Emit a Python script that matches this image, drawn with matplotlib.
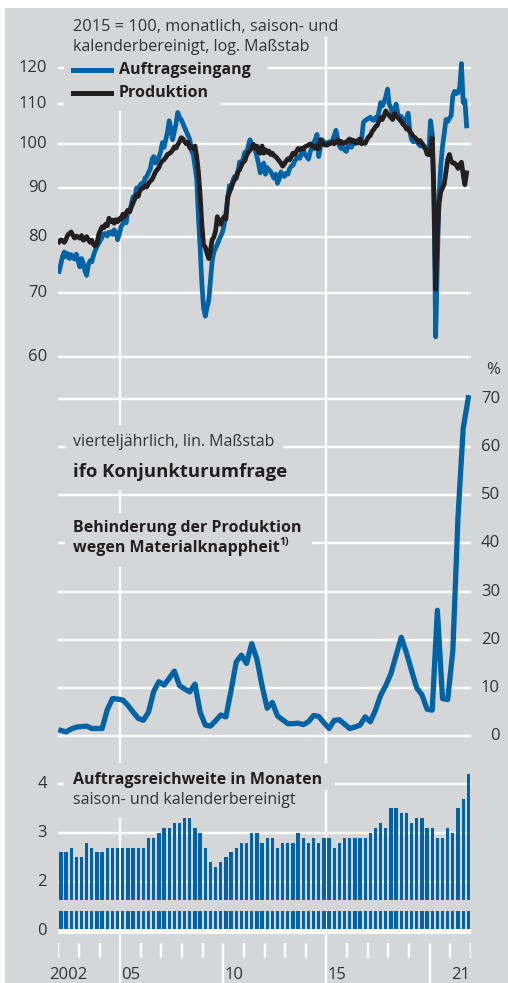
import numpy as np
import matplotlib
matplotlib.use("Agg")
import matplotlib.pyplot as plt
from matplotlib.patches import Rectangle
from matplotlib.lines import Line2D
from matplotlib.transforms import IdentityTransform, blended_transform_factory

W, H = 508, 983
GRAY = '#d5d6d8'
BLUE = '#0063a5'
BLACK = '#231f20'
TXT = '#333333'

plt.rcParams['font.family'] = ['Open Sans', 'DejaVu Sans']

# --- Auftragseingang (monthly, 2015=100) ---
o2002 = [73.7, 75.0, 76.4, 77.2, 76.3, 76.9, 76.0, 76.7, 76.2, 75.9, 76.8, 75.6]
o2003 = [74.5, 76.0, 75.2, 73.8, 73.0, 74.9, 75.6, 75.4, 76.6, 77.5, 78.2, 78.8]
o2004 = [79.4, 80.0, 80.6, 80.7, 80.2, 80.9, 81.0, 80.5, 81.4, 80.9, 79.5, 80.6]
o2005 = [82.0, 82.6, 83.3, 82.8, 85.3, 85.0, 86.5, 88.1, 87.6, 90.0, 89.5, 90.6]
o2006 = [91.0, 90.8, 92.2, 92.5, 93.4, 94.2, 96.3, 97.0, 95.5, 96.2, 96.9, 98.0]
o2007 = [100.3, 99.2, 101.0, 102.8, 105.7, 103.5, 101.0, 103.0, 105.0, 107.8, 106.5, 106.0]
o2008 = [105.0, 104.0, 103.0, 102.0, 101.0, 98.3, 97.5, 94.8, 92.0, 84.0, 78.0, 71.6]
o2009 = [67.5, 66.2, 67.6, 68.7, 72.0, 75.6, 77.2, 78.0, 78.6, 79.5, 80.2, 81.0]
o2010 = [82.5, 84.8, 87.5, 90.5, 89.8, 91.5, 92.5, 92.0, 93.5, 95.8, 95.0, 96.5]
o2011 = [98.0, 97.8, 99.5, 101.0, 100.0, 99.2, 98.5, 97.1, 95.3, 93.3, 94.8, 95.5]
o2012 = [93.0, 94.5, 94.0, 93.6, 92.8, 92.1, 93.0, 91.0, 92.0, 93.5, 92.8, 92.5]
o2013 = [93.2, 93.0, 94.2, 94.8, 95.0, 96.0, 96.5, 97.0, 96.6, 97.8, 98.6, 97.5]
o2014 = [97.0, 96.4, 98.0, 99.0, 100.3, 101.0, 102.3, 97.0, 99.5, 101.0, 100.5, 100.0]
o2015 = [100.0, 100.5, 100.3, 100.8, 102.0, 103.3, 101.0, 99.5, 98.9, 99.2, 98.6, 98.2]
o2016 = [99.5, 100.0, 99.2, 100.4, 100.0, 100.6, 101.0, 100.4, 101.5, 105.3, 105.8, 106.0]
o2017 = [106.3, 106.6, 106.0, 105.8, 106.5, 106.3, 108.0, 110.4, 109.5, 110.5, 112.0, 114.0]
o2018 = [110.0, 109.0, 107.6, 108.5, 110.0, 107.5, 106.3, 106.8, 105.8, 105.5, 106.2, 107.6]
o2019 = [103.0, 101.0, 100.5, 101.0, 100.5, 100.0, 99.5, 100.2, 99.7, 98.9, 99.0, 97.9]
o2020 = [105.7, 102.5, 88.0, 63.0, 75.6, 88.5, 95.0, 99.5, 102.5, 106.0, 105.5, 106.3]
o2021 = [107.0, 112.2, 113.4, 112.8, 113.0, 114.5, 121.2, 110.4, 111.0, 104.4]

# --- Produktion (monthly, 2015=100) ---
p2002 = [79.1, 79.5, 79.3, 79.0, 79.6, 80.4, 80.7, 81.0, 80.3, 79.8, 80.2, 80.0]
p2003 = [79.8, 80.3, 79.4, 79.6, 80.1, 79.5, 79.0, 79.4, 78.6, 78.3, 78.8, 80.5]
p2004 = [81.3, 82.0, 81.8, 82.5, 82.2, 83.7, 83.0, 83.3, 82.7, 83.4, 83.0, 83.6]
p2005 = [83.5, 84.5, 84.0, 84.8, 85.3, 85.0, 86.0, 86.8, 87.8, 88.5, 88.2, 89.5]
p2006 = [89.8, 90.0, 90.5, 90.2, 91.0, 91.5, 91.8, 92.6, 93.5, 94.0, 94.5, 95.5]
p2007 = [96.0, 96.3, 96.8, 97.5, 97.7, 98.0, 98.5, 99.3, 99.0, 99.8, 100.5, 101.5]
p2008 = [101.2, 100.5, 100.0, 100.4, 99.0, 99.3, 98.8, 99.5, 97.0, 93.5, 88.5, 82.5]
p2009 = [78.5, 78.1, 77.0, 76.0, 77.5, 79.5, 80.0, 81.2, 84.0, 82.7, 82.5, 83.5]
p2010 = [84.0, 83.5, 88.0, 89.0, 90.0, 91.0, 91.8, 92.5, 93.6, 94.0, 95.0, 95.8]
p2011 = [96.0, 97.3, 98.0, 98.5, 99.2, 99.9, 99.0, 99.5, 98.0, 97.8, 99.5, 97.8]
p2012 = [98.6, 98.0, 98.3, 97.5, 97.8, 97.2, 97.0, 96.5, 96.0, 95.5, 94.8, 95.3]
p2013 = [96.0, 96.5, 96.2, 97.0, 97.8, 97.5, 98.2, 98.9, 98.6, 99.0, 98.8, 99.3]
p2014 = [99.5, 99.7, 100.0, 99.7, 99.2, 98.9, 99.6, 98.9, 101.0, 100.3, 99.8, 99.7]
p2015 = [99.7, 100.1, 100.1, 100.5, 100.0, 100.5, 101.0, 100.2, 100.6, 100.1, 100.2, 100.5]
p2016 = [100.8, 101.2, 100.6, 100.9, 100.3, 100.6, 100.2, 101.2, 100.0, 100.4, 100.1, 101.0]
p2017 = [101.7, 102.0, 103.0, 103.5, 104.2, 104.5, 105.7, 106.5, 106.0, 107.0, 108.2, 107.5]
p2018 = [107.0, 106.5, 106.0, 107.6, 107.0, 106.5, 106.0, 105.5, 104.8, 104.5, 103.6, 103.8]
p2019 = [103.0, 102.5, 101.7, 101.5, 101.0, 100.5, 100.8, 100.0, 99.3, 99.0, 97.6, 97.4]
p2020 = [98.5, 101.5, 88.1, 70.6, 80.5, 86.8, 89.2, 90.0, 90.8, 93.5, 96.3, 97.5]
p2021 = [96.0, 95.5, 95.5, 95.0, 94.3, 95.2, 95.7, 92.9, 90.7, 93.3]

# --- ifo: Behinderung wegen Materialknappheit (quarterly, %) ---
ifo = [1.2, 0.9, 1.5, 1.9,  2.0, 2.1, 1.6, 1.6,  1.6, 5.5, 7.8, 7.7,
       7.5, 6.4, 5.0, 3.7,  3.3, 5.0, 9.3, 11.3,  10.6, 12.0, 13.5, 10.5,
       9.8, 9.2, 10.8, 5.0,  2.3, 2.1, 3.2, 4.4,  4.0, 9.5, 15.4, 16.8,
       15.1, 19.2, 16.0, 10.5,  5.8, 7.0, 4.2, 3.4,  2.6, 2.6, 2.7, 2.4,
       3.0, 4.3, 4.1, 2.8,  1.6, 3.3, 3.4, 2.5,  1.6, 1.9, 2.3, 4.0,
       3.0, 5.4, 8.5, 10.5,  13.0, 16.8, 20.5, 17.3,  13.6, 10.0, 8.6, 5.6,
       5.4, 26.1, 7.8, 7.6,  17.8, 45.5, 63.8, 70.2]

# --- Auftragsreichweite in Monaten (quarterly) ---
reichweite = [2.6, 2.6, 2.7, 2.5,  2.5, 2.8, 2.7, 2.6,  2.6, 2.7, 2.7, 2.7,
              2.7, 2.7, 2.7, 2.7,  2.7, 2.9, 2.9, 3.0,  3.1, 3.1, 3.2, 3.2,
              3.3, 3.3, 3.1, 3.0,  2.7, 2.4, 2.3, 2.4,  2.5, 2.6, 2.7, 2.8,
              2.8, 3.0, 3.0, 2.8,  2.9, 2.9, 2.7, 2.8,  2.8, 2.8, 3.0, 2.9,
              2.8, 2.9, 2.8, 2.9,  2.9, 2.7, 2.8, 2.9,  2.9, 2.9, 2.9, 2.9,
              3.0, 3.1, 3.2, 3.1,  3.5, 3.5, 3.4, 3.4,  3.2, 3.3, 3.3, 3.1,
              3.1, 2.9, 2.9, 3.1,  3.0, 3.5, 3.7, 4.2]

year_labels = ['2002', '05', '10', '15', '21']
label_years = [2002, 2005, 2010, 2015, 2021]

orders = np.array(o2002 + o2003 + o2004 + o2005 + o2006 + o2007 + o2008 + o2009 + o2010 + o2011
                  + o2012 + o2013 + o2014 + o2015 + o2016 + o2017 + o2018 + o2019 + o2020 + o2021)
prod = np.array(p2002 + p2003 + p2004 + p2005 + p2006 + p2007 + p2008 + p2009 + p2010 + p2011
                + p2012 + p2013 + p2014 + p2015 + p2016 + p2017 + p2018 + p2019 + p2020 + p2021)
t_month = 2002 + (np.arange(len(orders)) + 0.5) / 12
t_quarter = 2002 + (np.arange(len(ifo)) + 0.5) / 4

fig = plt.figure(figsize=(W / 100, H / 100), dpi=100, facecolor='white')
fig.add_artist(Rectangle((5 / W, 0), (W - 5) / W, (H - 8) / H, transform=fig.transFigure,
                         fc=GRAY, ec='none', zorder=-5))

X0, X1 = 58.3, 470.9
PX = IdentityTransform()


def panel(y0, y1):
    ax = fig.add_axes([X0 / W, 1 - y1 / H, (X1 - X0) / W, (y1 - y0) / H])
    ax.set_xlim(2002, 2022)
    ax.set_axis_off()
    return ax


def cover(ax, x0, y0, x1, y1):
    # gray box behind a text, hides the grid lines like in the original
    ax.add_patch(Rectangle((x0, H - y1), x1 - x0, y1 - y0, transform=PX,
                           fc=GRAY, ec='none', zorder=2, clip_on=False))


def ptext(ax, x, y, s, **kw):
    kw.setdefault('color', TXT)
    kw.setdefault('fontsize', 11.5)
    ax.text(x, H - y, s, transform=PX, va='center', zorder=4, **kw)


GL = 1.7

# base: vertical grid lines and year ticks
ax0 = panel(8, 983)
ax0.set_ylim(983, 8)
for yr in (2005, 2015):
    ax0.plot([yr, yr], [8, 983], color='white', lw=GL, solid_capstyle='butt')
for yr in range(2002, 2023):
    if yr in (2010, 2020):
        ax0.plot([yr, yr], [943, 983], color='white', lw=GL, solid_capstyle='butt')
    elif yr not in (2005, 2015):
        ax0.plot([yr, yr], [943, 958], color='white', lw=GL, solid_capstyle='butt')
for yr, lab in zip(label_years, year_labels):
    ax0.text(yr + 0.5, 975, lab, ha='center', va='center', fontsize=12, color=TXT)

# --- top: Auftragseingang / Produktion, log scale ---
ax1 = panel(8, 360)
ax1.set_yscale('log')
k = 417.8
ax1.set_ylim(60 * np.exp(-(360 - 357.3) / k), 60 * np.exp((357.3 - 8) / k))
tr1 = blended_transform_factory(PX, ax1.transData)
for v in [60, 70, 80, 90, 100, 110, 120]:
    ax1.axhline(v, color='white', lw=GL, zorder=1)
    ax1.text(47, v, str(v), transform=tr1, ha='right', va='center', fontsize=12, color=TXT)
cover(ax1, 64, 8, 352, 37)
cover(ax1, 64, 37, 270, 58)
cover(ax1, 64, 58, 267, 82)
cover(ax1, 64, 82, 220, 111)
ax1.plot(t_month, orders, color=BLUE, lw=3.4, zorder=5, solid_joinstyle='round')
ax1.plot(t_month, prod, color=BLACK, lw=3.4, zorder=6, solid_joinstyle='round')
ptext(ax1, 73, 27, '2015 = 100, monatlich, saison- und', fontsize=11.8)
ptext(ax1, 73, 47, 'kalenderbereinigt, log. Maßstab')
ax1.add_line(Line2D([73, 111], [H - 70, H - 70], transform=PX, color=BLUE, lw=3.6, zorder=4))
ax1.add_line(Line2D([73, 111], [H - 93, H - 93], transform=PX, color=BLACK, lw=3.6, zorder=4))
ptext(ax1, 119, 70, 'Auftragseingang', fontweight='bold', color=BLACK)
ptext(ax1, 119, 93, 'Produktion', fontweight='bold', color=BLACK)

# --- middle: ifo Konjunkturumfrage ---
ax2 = panel(360, 745)
s2 = 4.821
ax2.set_ylim(-(745 - 736.2) / s2, (736.2 - 360) / s2)
tr2 = blended_transform_factory(PX, ax2.transData)
for v in range(0, 80, 10):
    ax2.axhline(v, color='white', lw=GL, zorder=1)
    ax2.text(500, v, str(v), transform=tr2, ha='right', va='center', fontsize=12, color=TXT)
ptext(ax2, 500, 370, '%', ha='right', fontsize=12)
cover(ax2, 66, 425, 283, 457)
cover(ax2, 66, 457, 290, 490)
cover(ax2, 65, 513, 312, 567)
ax2.plot(t_quarter, ifo, color=BLUE, lw=3.8, zorder=5, solid_joinstyle='round')
ptext(ax2, 73, 442, 'vierteljährlich, lin. Maßstab')
ptext(ax2, 73, 472, 'ifo Konjunkturumfrage', fontsize=13.3, fontweight='bold', color=BLACK)
ptext(ax2, 73, 528, 'Behinderung der Produktion', fontweight='bold', color=BLACK)
ptext(ax2, 73, 548, 'wegen Materialknappheit', fontweight='bold', color=BLACK)
ptext(ax2, 279, 542, '1)', fontweight='bold', color=BLACK, fontsize=7.5)

# --- bottom: Auftragsreichweite, broken axis (values shifted by 1) ---
ax3 = panel(745, 940)
s3 = 48.85
ax3.set_ylim(-(940 - 930.6) / s3, (930.6 - 745) / s3)
tr3 = blended_transform_factory(PX, ax3.transData)
for p, lab in [(1, '2'), (2, '3'), (3, '4')]:
    ax3.axhline(p, color='white', lw=GL, zorder=1)
    ax3.text(47, p, lab, transform=tr3, ha='right', va='center', fontsize=12, color=TXT)
ax3.text(47, 0, '0', transform=tr3, ha='right', va='center', fontsize=12, color=TXT)
cover(ax3, 64, 763, 335, 790)
cover(ax3, 64, 790, 305, 818)
ax3.bar(t_quarter, np.array(reichweite) - 1, width=0.16, color=BLUE, zorder=3)
ax3.axhspan(0.40, 0.63, color=GRAY, zorder=3.5, lw=0)
ax3.axhline(0, color='white', lw=3.6, zorder=5)
ptext(ax3, 73, 780, 'Auftragsreichweite in Monaten', fontweight='bold', color=BLACK)
ptext(ax3, 73, 800, 'saison- und kalenderbereinigt')

fig.savefig('out.png', dpi=100, facecolor=fig.get_facecolor())
